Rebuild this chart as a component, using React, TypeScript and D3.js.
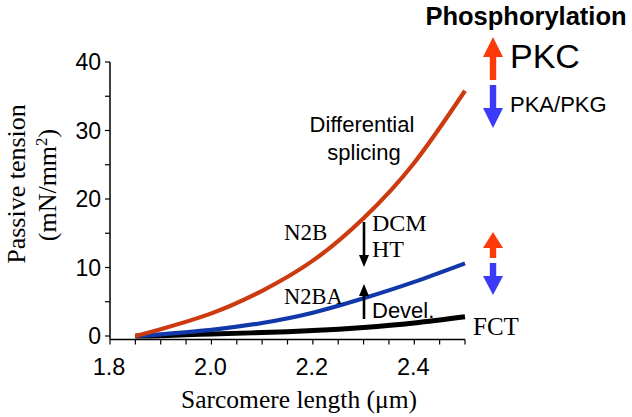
import React from 'react';
import * as d3 from 'd3';

// sarcomere length (µm) and passive tension (mN/mm²)
const lengths = [1.85, 1.9, 2.0, 2.1, 2.2, 2.3, 2.4, 2.5];
const n2bValues = [0.0, 1.0, 3.3, 6.6, 11.0, 17.2, 25.3, 35.8];
const n2baValues = [0.0, 0.25, 0.9, 1.9, 3.4, 5.5, 7.9, 10.6];
const fctValues = [0.0, 0.05, 0.3, 0.5, 0.8, 1.25, 1.9, 2.8];

const xMajorTicks = [1.8, 2.0, 2.2, 2.4];
const xMinorTicks = [1.8, 1.85, 1.9, 1.95, 2.0, 2.05, 2.1, 2.15, 2.2, 2.25, 2.3, 2.35, 2.4, 2.45, 2.5];
const yMajorTicks = [0, 10, 20, 30, 40];
const yMinorTicks = [5, 15, 25, 35];

const W = 632;
const H = 417;

const SERIF = '"Liberation Serif", "Times New Roman", serif';
const SANS = '"Liberation Sans", Arial, sans-serif';

const RED = '#cc3a10';
const BLUE = '#1038a8';
const ARROW_RED = '#ff3a0a';
const ARROW_BLUE = '#3a3af8';

const FatArrow: React.FC<{ x: number; y1: number; y2: number; head: number; color: string }> = ({ x, y1, y2, head, color }) => {
  // y1 = tail, y2 = tip
  const dir = y2 < y1 ? -1 : 1;
  const headHalf = 10;
  const shaftHalf = 3.2;
  const yb = y2 - dir * head;
  const path = `M${x - shaftHalf},${y1} L${x - shaftHalf},${yb} L${x - headHalf},${yb} L${x},${y2} L${x + headHalf},${yb} L${x + shaftHalf},${yb} L${x + shaftHalf},${y1} Z`;
  return <path d={path} fill={color} />;
};

const ThinArrow: React.FC<{ x: number; y1: number; y2: number }> = ({ x, y1, y2 }) => {
  const dir = y2 < y1 ? -1 : 1;
  const yb = y2 - dir * 12;
  return (
    <g>
      <line x1={x} y1={y1} x2={x} y2={yb} stroke="#000" strokeWidth={2.6} />
      <path d={`M${x - 5},${yb} L${x},${y2} L${x + 5},${yb} Z`} fill="#000" />
    </g>
  );
};

export default function App() {
  const x = d3.scaleLinear().domain([1.8, 2.5]).range([110, 465]);
  const y = d3.scaleLinear().domain([0, 40]).range([336, 62]);

  const line = (vals: number[]) =>
    d3
      .line<number>()
      .x((_, i) => x(lengths[i]))
      .y((v) => y(v))
      .curve(d3.curveNatural)(vals) || '';

  const x0 = x(1.8);
  const axisY = y(0) + 3.5;

  return (
    <svg width={W} height={H} style={{ position: 'absolute', left: 0, top: 0, background: '#fff' }}>
      {/* axes */}
      <line x1={x0} y1={axisY} x2={x(2.5)} y2={axisY} stroke="#000" strokeWidth={1.5} />
      <line x1={x0} y1={axisY} x2={x0} y2={y(40)} stroke="#000" strokeWidth={1.5} />
      {xMinorTicks.map((t) => (
        <line key={'xm' + t} x1={x(t)} x2={x(t)} y1={axisY} y2={axisY + 5} stroke="#000" strokeWidth={1.2} />
      ))}
      {xMajorTicks.map((t) => (
        <text key={'xl' + t} x={x(t) - 1} y={375} textAnchor="middle" fontFamily={SANS} fontSize={23.5}>
          {t.toFixed(1)}
        </text>
      ))}
      {yMajorTicks.map((t) => (
        <g key={'y' + t}>
          <line x1={x0 - 5} x2={x0} y1={y(t)} y2={y(t)} stroke="#000" strokeWidth={1.2} />
          <text x={x0 - 9} y={y(t)} dy="0.36em" textAnchor="end" fontFamily={SANS} fontSize={23}>
            {t}
          </text>
        </g>
      ))}
      {yMinorTicks.map((t) => (
        <line key={'ym' + t} x1={x0 - 5} x2={x0} y1={y(t)} y2={y(t)} stroke="#000" strokeWidth={1.2} />
      ))}

      {/* axis titles */}
      <text x={299} y={408} textAnchor="middle" fontFamily={SERIF} fontSize={25.5}>
        Sarcomere length (μm)
      </text>
      <g transform="translate(25,184) rotate(-90)">
        <text x={0} y={0} textAnchor="middle" fontFamily={SERIF} fontSize={26}>
          Passive tension
        </text>
      </g>
      <g transform="translate(56,185) rotate(-90)">
        <text x={0} y={0} textAnchor="middle" fontFamily={SERIF} fontSize={26}>
          (mN/mm<tspan dy={-9} fontSize={17}>2</tspan>
          <tspan dy={9}>)</tspan>
        </text>
      </g>

      {/* curves */}
      <path d={line(fctValues)} fill="none" stroke="#000" strokeWidth={5} />
      <path d={line(n2baValues)} fill="none" stroke={BLUE} strokeWidth={4.2} />
      <path d={line(n2bValues)} fill="none" stroke={RED} strokeWidth={4.2} />

      {/* annotations */}
      <text x={362} y={132} textAnchor="middle" fontFamily={SANS} fontSize={22}>
        Differential
      </text>
      <text x={364} y={160} textAnchor="middle" fontFamily={SANS} fontSize={22}>
        splicing
      </text>
      <text x={284} y={240} fontFamily={SERIF} fontSize={23}>N2B</text>
      <text x={284} y={304} fontFamily={SERIF} fontSize={22.5}>N2BA</text>
      <text x={372} y={231} fontFamily={SERIF} fontSize={24}>DCM</text>
      <text x={372} y={257} fontFamily={SERIF} fontSize={24}>HT</text>
      <ThinArrow x={364} y1={222} y2={267} />
      <ThinArrow x={364} y1={319} y2={284} />
      <text x={372} y={318} fontFamily={SANS} fontSize={22}>Devel.</text>
      <text x={473} y={335} fontFamily={SERIF} fontSize={25}>FCT</text>

      {/* phosphorylation legend */}
      <text x={526} y={25} textAnchor="middle" fontFamily={SANS} fontSize={25.5} fontWeight="bold">
        Phosphorylation
      </text>
      <FatArrow x={493} y1={80} y2={37} head={20} color={ARROW_RED} />
      <FatArrow x={493} y1={85} y2={128} head={20} color={ARROW_BLUE} />
      <text x={510} y={68} fontFamily={SANS} fontSize={34}>PKC</text>
      <text x={510} y={112} fontFamily={SANS} fontSize={22}>PKA/PKG</text>
      <FatArrow x={493} y1={258} y2={232} head={16} color={ARROW_RED} />
      <FatArrow x={493} y1={263} y2={295} head={19} color={ARROW_BLUE} />
    </svg>
  );
}
